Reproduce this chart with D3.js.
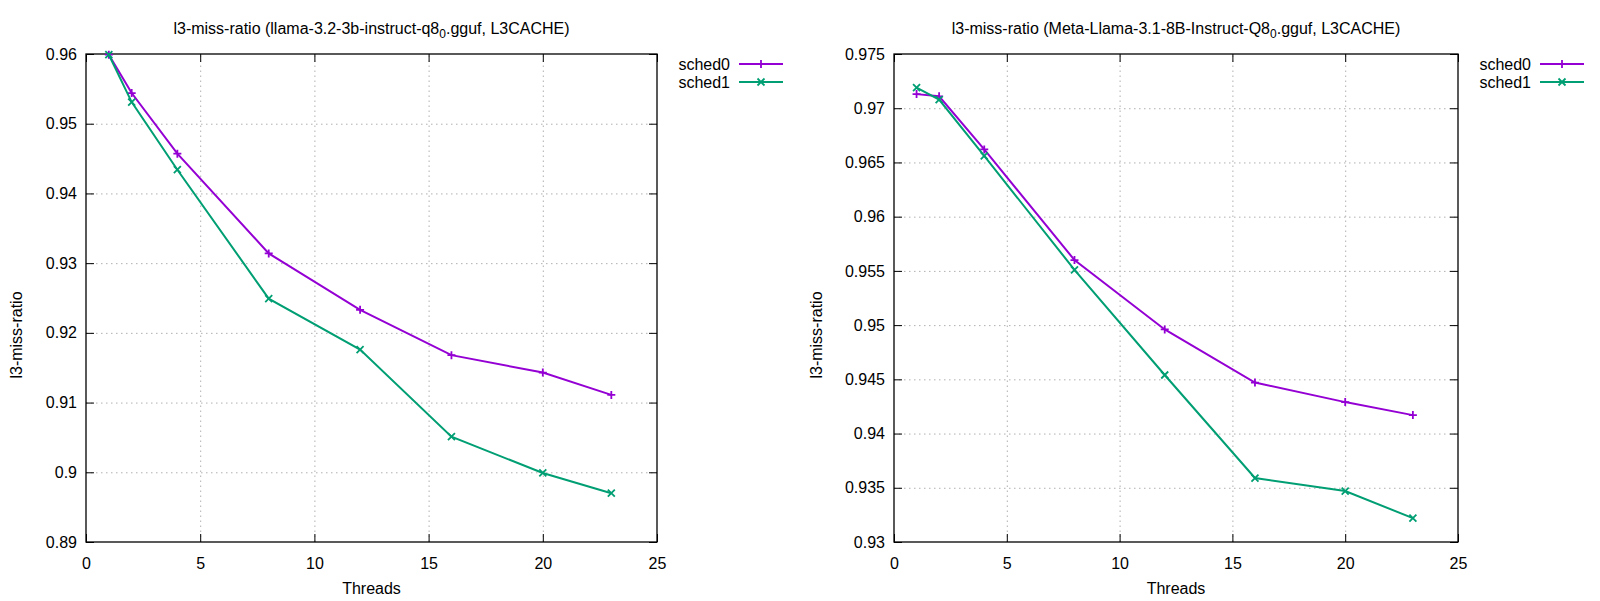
<!DOCTYPE html>
<html>
<head>
<meta charset="utf-8">
<script src="https://cdn.jsdelivr.net/npm/d3@7"></script>
<style>
  body { margin: 0; background: #fff; }
  svg { font-family: "Liberation Sans", Arial, sans-serif; font-size: 16px; }
  .grid line { stroke: #b0b0b0; stroke-width: 1; stroke-dasharray: 1.5,3.5; }
  .ticks line { stroke: #000; stroke-width: 1; }
  .ticks path { display: none; }
  .grid path { display: none; }
</style>
</head>
<body>
<script>
//chart data
var threads = [1, 2, 4, 8, 12, 16, 20, 23];
var seriesNames = ["sched0", "sched1"];
var seriesColors = ["#9400d3", "#009e73"];

//llama-3.2-3b-instruct-q8_0 panel
var smallSched0 = [0.9599, 0.9544, 0.9457, 0.9314, 0.9233, 0.9168, 0.9143, 0.9111];
var smallSched1 = [0.9599, 0.9531, 0.9434, 0.9249, 0.9176, 0.9051, 0.8999, 0.8970];
//Meta-Llama-3.1-8B-Instruct-Q8_0 panel
var bigSched0 = [0.9713, 0.9711, 0.9662, 0.9560, 0.9496, 0.9447, 0.9429, 0.9417];
var bigSched1 = [0.9719, 0.9708, 0.9656, 0.9551, 0.9454, 0.9359, 0.9347, 0.9322];

//tick labels
var xTicks = [0, 5, 10, 15, 20, 25];
var smallYTicks = [0.89, 0.90, 0.91, 0.92, 0.93, 0.94, 0.95, 0.96];
var bigYTicks = [0.93, 0.935, 0.94, 0.945, 0.95, 0.955, 0.96, 0.965, 0.97, 0.975];

var width = 1600,
    height = 601;

var svg = d3.select("body")
    .append("svg")
    .attr("width", width)
    .attr("height", height);

drawPanel({
    left: 86, right: 657, top: 54, bottom: 542,
    titleMain: "l3-miss-ratio (llama-3.2-3b-instruct-q8",
    titleTail: ".gguf, L3CACHE)",
    yTicks: smallYTicks,
    series: [smallSched0, smallSched1],
    ylabelX: 17
});
drawPanel({
    left: 894, right: 1458, top: 54, bottom: 542,
    titleMain: "l3-miss-ratio (Meta-Llama-3.1-8B-Instruct-Q8",
    titleTail: ".gguf, L3CACHE)",
    yTicks: bigYTicks,
    series: [bigSched0, bigSched1],
    ylabelX: 817
});

function fmt(d){
    return String(+d.toFixed(3));
};

function drawPanel(p){
    var g = svg.append("g");
    var x = d3.scaleLinear()
        .domain([0, 25])
        .range([p.left, p.right]);
    var y = d3.scaleLinear()
        .domain([p.yTicks[0], p.yTicks[p.yTicks.length - 1]])
        .range([p.bottom, p.top]);
    var w = p.right - p.left,
        h = p.bottom - p.top;

    //dotted grid, skip the ones sitting on the border
    g.append("g")
        .attr("class", "grid")
        .attr("transform", "translate(0," + p.bottom + ")")
        .call(d3.axisBottom(x).tickValues(xTicks.slice(1, -1)).tickSize(-h).tickFormat(""));
    g.append("g")
        .attr("class", "grid")
        .attr("transform", "translate(" + p.left + ",0)")
        .call(d3.axisLeft(y).tickValues(p.yTicks.slice(1, -1)).tickSize(-w).tickFormat(""));

    //inward ticks on all four sides (gnuplot mirror)
    var bottomAxis = g.append("g")
        .attr("class", "ticks")
        .attr("transform", "translate(0," + p.bottom + ")")
        .call(d3.axisBottom(x).tickValues(xTicks).tickSize(-8).tickPadding(16).tickFormat(fmt));
    bottomAxis.selectAll("text")
        .attr("fill", "#000")
        .style("font-size", "16px")
        .style("font-family", "Liberation Sans, Arial, sans-serif");
    g.append("g")
        .attr("class", "ticks")
        .attr("transform", "translate(0," + p.top + ")")
        .call(d3.axisTop(x).tickValues(xTicks).tickSize(-8).tickFormat(""));
    var leftAxis = g.append("g")
        .attr("class", "ticks")
        .attr("transform", "translate(" + p.left + ",0)")
        .call(d3.axisLeft(y).tickValues(p.yTicks).tickSize(-8).tickPadding(9).tickFormat(fmt));
    leftAxis.selectAll("text")
        .attr("fill", "#000")
        .style("font-size", "16px")
        .style("font-family", "Liberation Sans, Arial, sans-serif");
    g.append("g")
        .attr("class", "ticks")
        .attr("transform", "translate(" + p.right + ",0)")
        .call(d3.axisRight(y).tickValues(p.yTicks).tickSize(-8).tickFormat(""));

    //border
    g.append("rect")
        .attr("x", p.left)
        .attr("y", p.top)
        .attr("width", w)
        .attr("height", h)
        .attr("fill", "none")
        .attr("stroke", "#000")
        .attr("stroke-width", 1.3);

    //title with subscript 0
    var title = g.append("text")
        .attr("x", (p.left + p.right) / 2)
        .attr("y", 34)
        .attr("text-anchor", "middle");
    title.append("tspan").text(p.titleMain);
    title.append("tspan").attr("dy", 4).style("font-size", "12px").text("0");
    title.append("tspan").attr("dy", -4).text(p.titleTail);

    //axis labels
    g.append("text")
        .attr("x", (p.left + p.right) / 2)
        .attr("y", 594)
        .attr("text-anchor", "middle")
        .text("Threads");
    g.append("text")
        .attr("transform", "translate(" + (p.ylabelX + 5) + "," + ((p.top + p.bottom) / 2 + 37) + ") rotate(-90)")
        .attr("text-anchor", "middle")
        .text("l3-miss-ratio");

    //lines and points
    var line = d3.line()
        .x(function(d, i){ return x(threads[i]); })
        .y(function(d){ return y(d); });
    p.series.forEach(function(vals, s){
        var col = seriesColors[s];
        g.append("path")
            .datum(vals)
            .attr("d", line)
            .attr("fill", "none")
            .attr("stroke", col)
            .attr("stroke-width", 2);
        g.selectAll(".pt" + s)
            .data(vals)
            .enter()
            .append("path")
            .attr("class", "pt" + s)
            .attr("d", function(d, i){
                return marker(s, x(threads[i]), y(d));
            })
            .attr("fill", "none")
            .attr("stroke", col)
            .attr("stroke-width", 1.8);

        //legend entry
        var ly = 64 + s * 18;
        g.append("text")
            .attr("x", p.right + 73)
            .attr("y", ly)
            .attr("dy", "0.35em")
            .attr("text-anchor", "end")
            .text(seriesNames[s]);
        g.append("line")
            .attr("x1", p.right + 82)
            .attr("x2", p.right + 126)
            .attr("y1", ly)
            .attr("y2", ly)
            .attr("stroke", col)
            .attr("stroke-width", 2);
        g.append("path")
            .attr("d", marker(s, p.right + 104, ly))
            .attr("fill", "none")
            .attr("stroke", col)
            .attr("stroke-width", 1.8);
    });
};

//gnuplot point types: 1 = plus, 2 = cross
function marker(s, cx, cy){
    var r = 4;
    if (s == 0){
        return "M" + (cx - r) + "," + cy + "H" + (cx + r) + "M" + cx + "," + (cy - r) + "V" + (cy + r);
    }
    r = 3.5;
    return "M" + (cx - r) + "," + (cy - r) + "L" + (cx + r) + "," + (cy + r) +
        "M" + (cx - r) + "," + (cy + r) + "L" + (cx + r) + "," + (cy - r);
};
</script>
</body>
</html>
